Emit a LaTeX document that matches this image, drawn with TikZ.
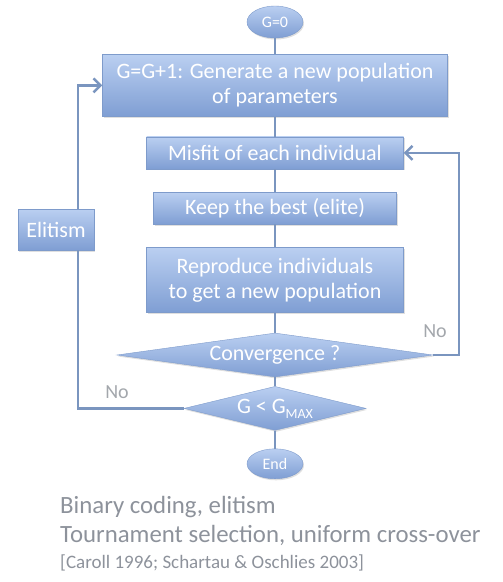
\documentclass[tikz,border=0pt]{standalone}
\usepackage{fontspec}
\setmainfont{Carlito}
\usetikzlibrary{shapes.geometric, arrows.meta, positioning, shadows}

\definecolor{boxtop}{HTML}{BACFF1}
\definecolor{boxbot}{HTML}{7F9ED3}
\definecolor{boxline}{HTML}{7E9BCB}
\definecolor{flowline}{HTML}{7A95BF}
\definecolor{notegray}{HTML}{8D929B}
\definecolor{nogray}{HTML}{A3A7AC}

\begin{document}
\begin{tikzpicture}[x=1pt, y=1pt, node distance=20pt]
            \tikzstyle{stepbox} = [draw=boxline, rectangle, top color=boxtop, bottom color=boxbot, text=white, align=center, inner sep=0pt, font=\fontsize{22}{25}\selectfont, drop shadow={opacity=0.25, shadow xshift=1pt, shadow yshift=-1.5pt}]
            \tikzstyle{test} = [stepbox, diamond, shape aspect=7]
            \tikzstyle{term} = [stepbox, ellipse, minimum width=56pt, minimum height=32pt, font=\fontsize{16}{18}\selectfont]
            \tikzstyle{flow} = [draw=flowline, line width=2.5pt]
            \tikzstyle{nolabel} = [text=nogray, font=\fontsize{20}{22}\selectfont]
            \tikzstyle{note} = [text=notegray, anchor=base west, inner sep=0pt, font=\fontsize{24.8}{27}\selectfont]

            \useasboundingbox (0,0) rectangle (503,-582);

            \node[term] (start) at (275,-22) {G=0};
            \node[stepbox, minimum width=345pt, minimum height=62pt, below=16pt of start] (gen) {G=G+1: Generate a new population\\of parameters};
            \node[stepbox, minimum width=257pt, minimum height=32pt, below=20pt of gen] (misfit) {Misfit of each individual};
            \node[stepbox, minimum width=243pt, minimum height=32pt, below=23pt of misfit] (keep) {Keep the best (elite)};
            \node[stepbox, minimum width=257pt, minimum height=65pt, below=23pt of keep] (repro) {Reproduce individuals\\to get a new population};
            \node[test, minimum width=316pt, minimum height=44pt, below=20pt of repro] (conv) {Convergence ?};
            \node[test, shape aspect=4, minimum width=182pt, minimum height=44pt, below=9pt of conv] (gmax) {G < G\raisebox{-5pt}{\fontsize{14}{14}\selectfont MAX}};
            \node[term, minimum height=30pt, below=18pt of gmax] (end) {End};

            \node[stepbox, minimum width=76pt, minimum height=41pt] (elit) at (56,-229.5) {Elitism};

            \draw[flow] (start) -- (gen);
            \draw[flow] (gen) -- (misfit);
            \draw[flow] (misfit) -- (keep);
            \draw[flow] (keep) -- (repro);
            \draw[flow] (repro) -- (conv);
            \draw[flow] (conv) -- (gmax);
            \draw[flow] (gmax) -- (end);

            % loops back
            \draw[flow, -{Straight Barb[length=7pt, width=14pt]}] (conv.east) -- ++(26,0) |- (misfit.east);
            \draw[flow] (gmax.west) -| ([xshift=22pt]elit.south);
            \draw[flow, -{Straight Barb[length=7pt, width=14pt]}] ([xshift=22pt]elit.north) |- (gen.west);

            \node[nolabel] (noright) at (435,-331) {No};
            \node[nolabel] (noleft) at (117,-392) {No};

            \node[note] (note1) at (60,-513) {Binary coding, elitism};
            \node[note] (note2) at (60,-542) {Tournament selection, uniform cross-over};
            \node[note, font=\fontsize{19}{21}\selectfont] (note3) at (60,-568) {[Caroll 1996; Schartau \& Oschlies 2003]};
        \end{tikzpicture}
\end{document}
